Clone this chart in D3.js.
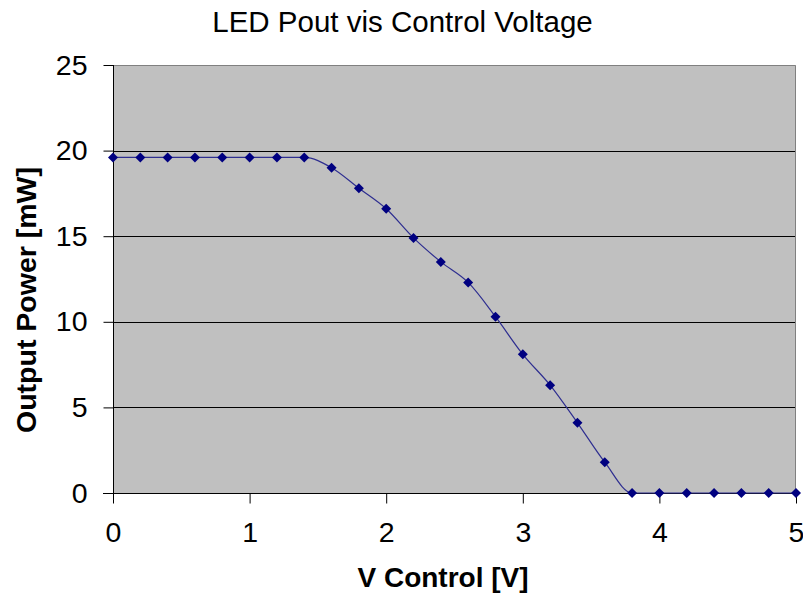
<!DOCTYPE html>
<html>
<head>
<meta charset="utf-8">
<script src="https://cdn.jsdelivr.net/npm/d3@7"></script>
<style>
  html, body { margin: 0; padding: 0; background: #ffffff; }
  svg { display: block; font-family: "Liberation Sans", Arial, sans-serif; }
</style>
</head>
<body>
<svg id="chart" width="803" height="596"></svg>
<script>
const chartTitle = "LED Pout vis Control Voltage";
const xTitle = "V Control [V]";
const yTitle = "Output Power [mW]";
const vControl = [0, 0.2, 0.4, 0.6, 0.8, 1.0, 1.2, 1.4, 1.6, 1.8, 2.0, 2.2, 2.4, 2.6, 2.8, 3.0, 3.2, 3.4, 3.6, 3.8, 4.0, 4.2, 4.4, 4.6, 4.8, 5.0];
const outputPower = [19.6, 19.6, 19.6, 19.6, 19.6, 19.6, 19.6, 19.6, 19.0, 17.8, 16.6, 14.9, 13.5, 12.3, 10.3, 8.1, 6.3, 4.1, 1.8, 0, 0, 0, 0, 0, 0, 0];
const xTicks = [0, 1, 2, 3, 4, 5];
const yTicks = [0, 5, 10, 15, 20, 25];

(function () {
const svg = d3.select("#chart");
const pL = 113, pR = 796, pT = 65, pB = 493;

const x = d3.scaleLinear().domain([0, 5]).range([pL, pR]);
const y = d3.scaleLinear().domain([0, 25]).range([pB, pT]);

// plot background
svg.append("rect")
  .attr("x", pL).attr("y", pT)
  .attr("width", pR - pL).attr("height", pB - pT)
  .attr("fill", "#c0c0c0");

// gridlines
svg.append("g").selectAll("line")
  .data(yTicks.filter(d => d > 0 && d < 25))
  .join("line")
  .attr("x1", pL).attr("x2", pR)
  .attr("y1", d => Math.round(y(d)) + 0.5).attr("y2", d => Math.round(y(d)) + 0.5)
  .attr("stroke", "#000").attr("stroke-width", 1);

// top & right border (gray)
svg.append("path")
  .attr("d", `M${pL},${pT + 0.5}H${pR - 0.5}V${pB}`)
  .attr("fill", "none").attr("stroke", "#808080").attr("stroke-width", 1);

// axes
const yAxis = d3.axisLeft(y).tickValues(yTicks).tickSize(10).tickPadding(16).tickFormat(d3.format("d"));
const xAxis = d3.axisBottom(x).tickValues(xTicks).tickSize(10).tickPadding(18).tickFormat(d3.format("d"));

const gy = svg.append("g").attr("transform", `translate(${pL + 0.5},0)`).call(yAxis);
const gx = svg.append("g").attr("transform", `translate(0,${pB + 0.5})`).call(xAxis);

[gx, gy].forEach(g => {
  g.select(".domain").attr("stroke", "#000").attr("stroke-width", 1);
  g.selectAll(".tick line").attr("stroke", "#000");
  g.selectAll("text")
    .attr("font-family", "'Liberation Sans', Arial, sans-serif")
    .attr("font-size", 28.5)
    .attr("fill", "#000");
});
gy.select(".domain").attr("d", `M0,${pT}V${pB}`);
gx.select(".domain").attr("d", `M${pL - 10},0H${pR}`);

// line
const line = d3.line()
  .x((d, i) => x(vControl[i]))
  .y(d => y(d))
  .curve(d3.curveMonotoneX);

svg.append("path")
  .datum(outputPower)
  .attr("d", line)
  .attr("fill", "none")
  .attr("stroke", "#2e2e90")
  .attr("stroke-width", 1.2);

// markers (diamonds)
const sym = d3.symbol().type(d3.symbolSquare).size(50);
svg.append("g").selectAll("path")
  .data(outputPower)
  .join("path")
  .attr("d", sym)
  .attr("transform", (d, i) => `translate(${x(vControl[i])},${y(d)}) rotate(45)`)
  .attr("fill", "#000080");

// titles
svg.append("text")
  .attr("x", 402.5).attr("y", 32)
  .attr("text-anchor", "middle")
  .attr("font-size", 29.5)
  .attr("fill", "#000")
  .text(chartTitle);

svg.append("text")
  .attr("x", 443).attr("y", 587)
  .attr("text-anchor", "middle")
  .attr("font-size", 28)
  .attr("font-weight", "bold")
  .attr("fill", "#000")
  .text(xTitle);

svg.append("text")
  .attr("transform", "translate(36,300) rotate(-90)")
  .attr("text-anchor", "middle")
  .attr("font-size", 28.5)
  .attr("font-weight", "bold")
  .attr("fill", "#000")
  .text(yTitle);
})();
</script>
</body>
</html>
